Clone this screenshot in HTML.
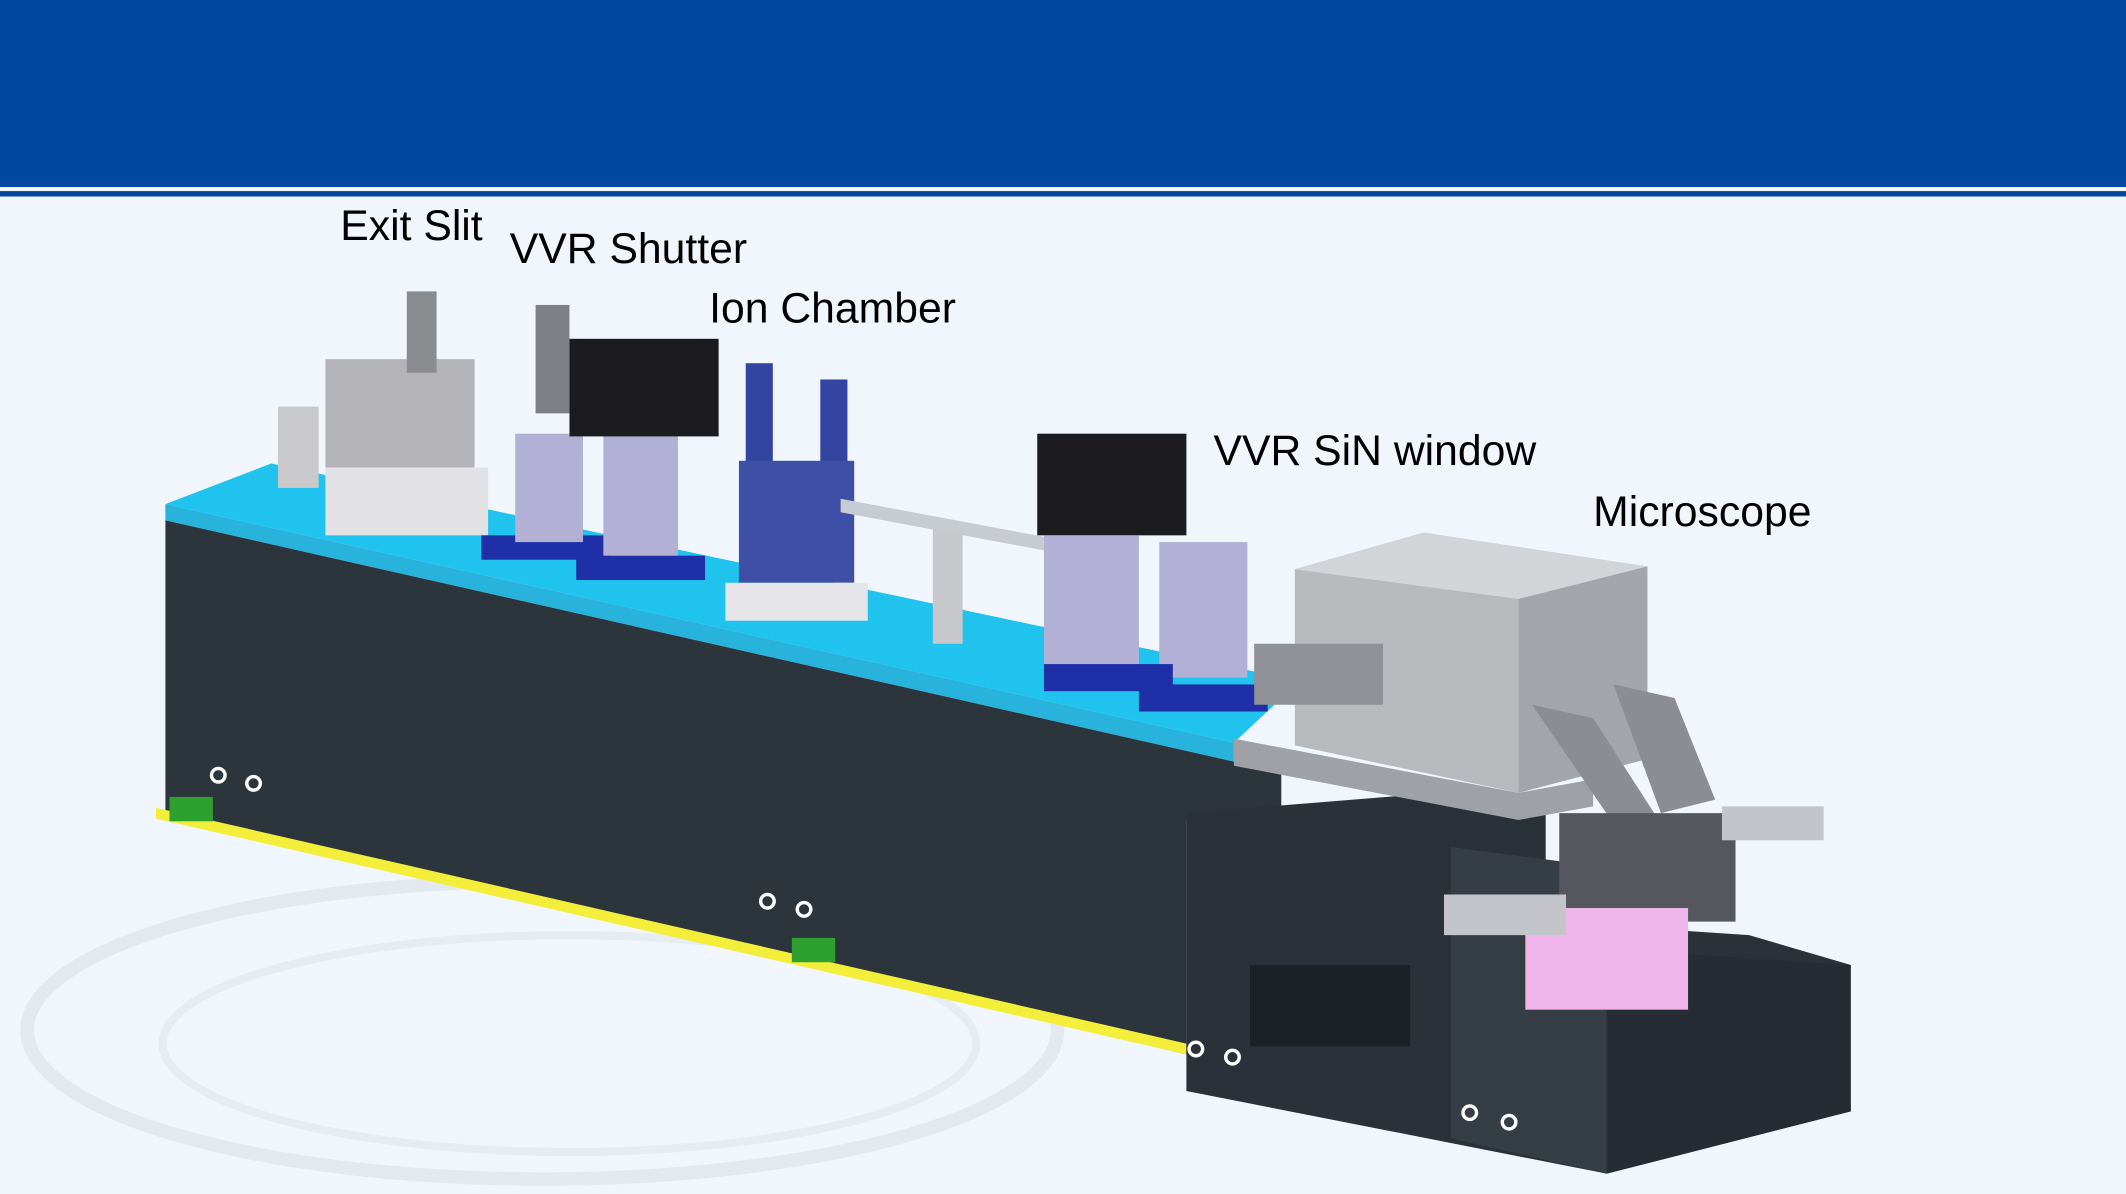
<!DOCTYPE html>
<html><head><style>
html,body{margin:0;padding:0;background:#f1f6fd;}
svg{display:block;}
text{font-family:"Liberation Sans",sans-serif;fill:#000;}
</style></head><body>
<svg width="2126" height="1194" viewBox="0 0 1568 881" preserveAspectRatio="none">
<rect width="1568" height="881" fill="#f1f6fd"/>
<rect x="0" y="0" width="1568" height="138" fill="#0047a0"/>
<rect x="0" y="141" width="1568" height="4" fill="#0047a0"/>
<!-- faint background sketch -->
<ellipse cx="400" cy="760" rx="380" ry="110" fill="none" stroke="#e4e9ef" stroke-width="10"/>
<ellipse cx="420" cy="770" rx="300" ry="80" fill="none" stroke="#e7ecf1" stroke-width="6"/>
<!-- cyan top -->
<polygon points="122,372 200,342 970,505 940,520 910,548" fill="#1fc3ee"/>
<polygon points="122,372 910,548 910,562 122,384" fill="#27b3dc"/>
<!-- main front face -->
<polygon points="122,384 910,562 945,565 945,600 875,605 875,778 122,600" fill="#2c343c"/>
<polygon points="115,596 875,770 875,778 115,604" fill="#f2ee3a"/>
<!-- lower right block -->
<polygon points="875,600 1060,585 1140,595 1140,680 1290,690 1365,712 1365,820 1185,866 875,805" fill="#2a3138"/>
<polygon points="1070,625 1185,640 1185,866 1070,840" fill="#353d45"/>
<polygon points="1185,700 1365,712 1365,820 1185,866" fill="#262c33"/>
<rect x="922" y="712" width="118" height="60" fill="#1c2126"/>
<!-- holes -->
<g fill="none" stroke="#fff" stroke-width="2.5">
<circle cx="161" cy="572" r="5"/><circle cx="187" cy="578" r="5"/>
<circle cx="566" cy="665" r="5"/><circle cx="593" cy="671" r="5"/>
<circle cx="882" cy="774" r="5"/><circle cx="909" cy="780" r="5"/>
<circle cx="1084" cy="821" r="5"/><circle cx="1113" cy="828" r="5"/>
</g>
<rect x="125" y="588" width="32" height="18" fill="#2da02d"/>
<rect x="584" y="692" width="32" height="18" fill="#2da02d"/>
<!-- equipment -->
<rect x="205" y="300" width="30" height="60" fill="#c9c9cc"/>
<rect x="240" y="265" width="110" height="80" fill="#b4b3b7"/>
<rect x="240" y="345" width="120" height="50" fill="#e2e2e5"/>
<rect x="300" y="215" width="22" height="60" fill="#8a8c90"/>
<rect x="355" y="395" width="95" height="18" fill="#1e2fa8"/>
<rect x="425" y="410" width="95" height="18" fill="#1e2fa8"/>
<rect x="380" y="320" width="50" height="80" fill="#b3b0d6"/>
<rect x="445" y="320" width="55" height="90" fill="#b3b0d6"/>
<rect x="420" y="250" width="110" height="72" fill="#1c1c1e"/>
<rect x="395" y="225" width="25" height="80" fill="#7e8086"/>
<rect x="550" y="268" width="20" height="85" fill="#3345a0"/>
<rect x="605" y="280" width="20" height="80" fill="#3345a0"/>
<rect x="545" y="340" width="85" height="90" fill="#3f4fa6"/>
<rect x="535" y="430" width="105" height="28" fill="#e6e6ea"/>
<polygon points="620,368 780,398 780,408 620,378" fill="#c8cbd2"/>
<rect x="688" y="390" width="22" height="85" fill="#c6c8cc"/>
<rect x="765" y="320" width="110" height="75" fill="#1c1c1e"/>
<rect x="770" y="395" width="70" height="100" fill="#b3b0d6"/>
<rect x="855" y="400" width="65" height="100" fill="#b3b0d6"/>
<rect x="770" y="490" width="95" height="20" fill="#1e2fa8"/>
<rect x="840" y="505" width="95" height="20" fill="#1e2fa8"/>
<!-- microscope chamber -->
<polygon points="955,420 1050,393 1215,418 1215,560 1120,585 955,550" fill="#b8b9bd"/>
<polygon points="955,420 1050,393 1215,418 1120,442" fill="#d3d4d7"/>
<polygon points="1120,442 1215,418 1215,560 1120,585" fill="#a3a5aa"/>
<polygon points="910,545 1120,585 1175,575 1175,595 1120,605 910,565" fill="#9fa1a6"/>
<rect x="925" y="475" width="95" height="45" fill="#8f9196"/>
<polygon points="1130,520 1175,530 1220,600 1195,615" fill="#8b8d92"/>
<polygon points="1190,505 1235,515 1265,590 1225,600" fill="#8b8d92"/>
<rect x="1150" y="600" width="130" height="80" fill="#55575c"/>
<rect x="1125" y="670" width="120" height="75" fill="#f0b6ec"/>
<rect x="1065" y="660" width="90" height="30" fill="#c3c5ca"/>
<rect x="1270" y="595" width="75" height="25" fill="#c3c5ca"/>
<!-- labels -->
<text x="251" y="177" font-size="31.5">Exit Slit</text>
<text x="376" y="194" font-size="31.5">VVR Shutter</text>
<text x="523" y="238" font-size="31.5">Ion Chamber</text>
<text x="895" y="343" font-size="31.5">VVR SiN window</text>
<text x="1175" y="388" font-size="31.5">Microscope</text>
</svg>
</body></html>
